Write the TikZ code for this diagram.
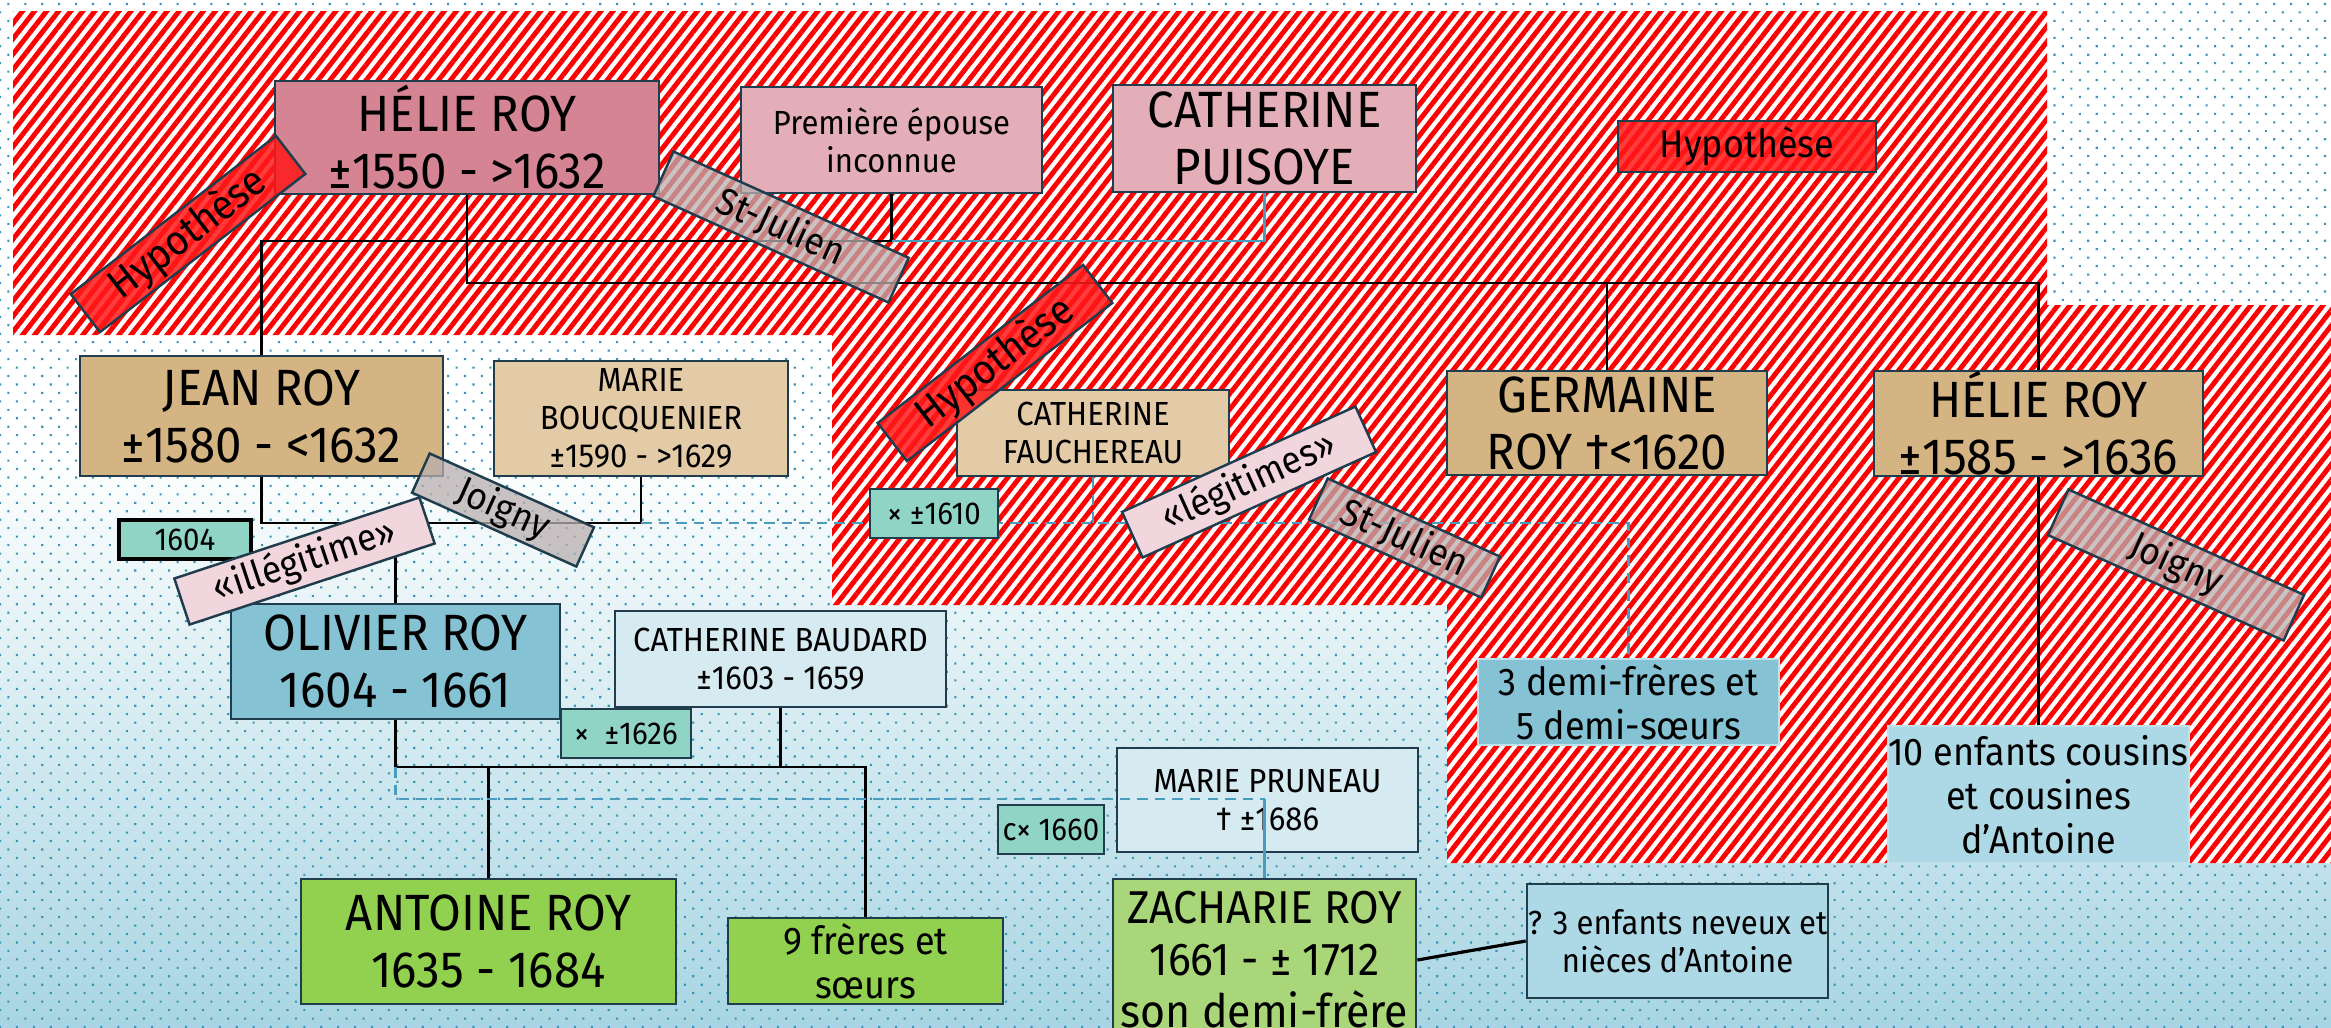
\documentclass[tikz,border=0pt]{standalone}
\usepackage{fontspec}
\setmainfont{Fira Sans}[FakeStretch=0.93]
\usepackage{tikz}
\usetikzlibrary{patterns.meta,positioning,calc}
\definecolor{boxLine}{RGB}{31,61,77}
\definecolor{roseDeep}{RGB}{212,132,146}
\definecolor{roseLight}{RGB}{227,174,184}
\definecolor{tanDark}{RGB}{213,180,131}
\definecolor{tanLight}{RGB}{228,203,168}
\definecolor{mint}{RGB}{143,212,196}
\definecolor{blueMid}{RGB}{133,194,212}
\definecolor{bluePale}{RGB}{214,234,241}
\definecolor{blueLight}{RGB}{173,216,230}
\definecolor{blueEdge}{RGB}{190,225,236}
\definecolor{greenMid}{RGB}{146,208,80}
\definecolor{greenSoft}{RGB}{170,214,122}
\definecolor{tagRed}{RGB}{255,25,25}
\definecolor{tagGrey}{RGB}{185,175,175}
\definecolor{tagPink}{RGB}{242,214,221}
\definecolor{kinBlue}{RGB}{74,156,190}
\definecolor{hatchRed}{RGB}{255,0,0}
\definecolor{dotBlue}{RGB}{58,150,182}
\definecolor{bgBlue}{RGB}{168,213,227}
\pgfdeclarelayer{bg}
\pgfdeclarelayer{lines}
\pgfsetlayers{bg,lines,main}

\begin{document}
\begin{tikzpicture}[x=0.01cm, y=-0.01cm,
        person/.style={rectangle, draw=boxLine, line width=0.7pt, align=center, inner sep=0pt, text=black},
        bigname/.style={person, font=\fontsize{14.5}{16.2}\selectfont},
        zachname/.style={person, font=\fontsize{13.1}{14.8}\selectfont},
        midname/.style={person, font=\fontsize{11}{12.5}\selectfont},
        smallname/.style={person, font=\fontsize{9.5}{10.8}\selectfont},
        datebox/.style={person, fill=mint, font=\fontsize{9}{10}\selectfont},
        hyponote/.style={person, fill=tagRed, fill opacity=0.85, text opacity=1, font=\fontsize{11}{12}\selectfont},
        tag/.style={rectangle, draw=boxLine, line width=0.7pt, inner sep=0pt, text opacity=1, font=\fontsize{10.8}{12}\selectfont},
        redtag/.style={tag, fill=tagRed, fill opacity=0.85, font=\fontsize{11.8}{12}\selectfont},
        greytag/.style={tag, fill=tagGrey, fill opacity=0.75},
        pinktag/.style={tag, fill=tagPink},
        tie/.style={draw=black, line width=0.65pt},
        kin/.style={draw=kinBlue, line width=0.7pt},
        kindash/.style={kin, dash pattern=on 3pt off 2pt}
    ]
        \useasboundingbox (0,0) rectangle (2331,1027);

        % First generation
        \node[bigname, fill=roseDeep, minimum width=3.84cm, minimum height=1.13cm] (helieA) at (467,137.5) {HÉLIE ROY\\±1550 - >1632};
        \node[smallname, fill=roseLight, minimum width=3.01cm, minimum height=1.06cm] (premiere) at (891.5,140) {Première épouse\\inconnue};
        \node[bigname, fill=roseLight, minimum width=3.03cm, minimum height=1.07cm] (puisoye) at (1264.5,138.5) {CATHERINE\\PUISOYE};
        \node[hyponote, minimum width=2.58cm, minimum height=0.51cm] (hypoNote) at (1747,146.5) {Hypothèse};

        % Second generation
        \node[bigname, fill=tanDark, minimum width=3.63cm, minimum height=1.2cm] (jean) at (261.5,416) {JEAN ROY\\±1580 - <1632};
        \node[smallname, fill=tanLight, minimum width=2.94cm, minimum height=1.15cm] (boucq) at (641,418.5) {MARIE\\BOUCQUENIER\\±1590 - >1629};
        \node[smallname, fill=tanLight, minimum width=2.72cm, minimum height=0.86cm] (fauch) at (1093,433) {CATHERINE\\FAUCHEREAU};
        \node[bigname, fill=tanDark, minimum width=3.2cm, minimum height=1.04cm] (germaine) at (1607,423) {GERMAINE\\ROY †<1620};
        \node[bigname, fill=tanDark, minimum width=3.29cm, minimum height=1.05cm] (helieB) at (2038.5,423.5) {HÉLIE ROY\\±1585 - >1636};

        % Third generation
        \node[datebox, draw=black, line width=1.2pt, minimum width=1.32cm, minimum height=0.39cm] (d1604) at (185,539.5) {1604};
        \node[datebox, minimum width=1.28cm, minimum height=0.49cm] (d1610) at (934,513.5) {× ±1610};
        \node[bigname, fill=blueMid, minimum width=3.29cm, minimum height=1.15cm] (olivier) at (395.5,661.5) {OLIVIER ROY\\1604 - 1661};
        \node[smallname, fill=bluePale, minimum width=3.31cm, minimum height=0.96cm] (baudard) at (780.5,659) {CATHERINE BAUDARD\\±1603 - 1659};
        \node[datebox, minimum width=1.3cm, minimum height=0.49cm] (d1626) at (626,733.5) {×\ \ ±1626};
        \node[midname, fill=blueMid, draw=blueEdge, minimum width=3.01cm, minimum height=0.86cm] (demi) at (1628.5,702) {3 demi-frères et\\5 demi-sœurs};
        \node[midname, fill=blueLight, draw=blueEdge, minimum width=3.01cm, minimum height=1.37cm] (cousins) at (2038.5,794.5) {10 enfants cousins\\et cousines\\d’Antoine};

        % Fourth generation
        \node[bigname, fill=greenMid, minimum width=3.75cm, minimum height=1.25cm] (antoine) at (488.5,941.5) {ANTOINE ROY\\1635 - 1684};
        \node[midname, fill=greenMid, minimum width=2.75cm, minimum height=0.86cm] (freres) at (865.5,961) {9 frères et\\sœurs};
        \node[smallname, fill=bluePale, minimum width=3.01cm, minimum height=1.04cm] (pruneau) at (1267.5,800) {MARIE PRUNEAU\\† ±1686};
        \node[datebox, minimum width=1.06cm, minimum height=0.49cm] (d1660) at (1051,829.5) {c× 1660};
        \node[zachname, fill=greenSoft, minimum width=3.03cm, minimum height=1.62cm] (zacharie) at (1264.5,960) {ZACHARIE ROY\\1661 - ± 1712\\son demi-frère};
        \node[smallname, fill=blueLight, minimum width=3.01cm, minimum height=1.14cm] (neveux) at (1677.5,941) {? 3 enfants neveux et\\nièces d’Antoine};

        % Background
        \begin{pgfonlayer}{bg}
        \fill[white] (0,0) rectangle (2331,1027);
        \shade[top color=white, bottom color=bgBlue] (0,450) rectangle (2331,1027);
        \fill[pattern={Dots[distance=3.4pt, radius=0.42pt, angle=45]}, pattern color=dotBlue] (0,0) rectangle (2331,1027);
        % Hatched area
        \fill[white, postaction={pattern={Lines[angle=52, distance=2.7pt, line width=1.4pt]}, pattern color=hatchRed}]
            (13,11) -- (2047,11) -- (2047,305) -- (2331,305) -- (2331,863) -- (1447,863)
            -- (1447,605) -- (832,605) -- (832,335) -- (13,335) -- cycle;
        \end{pgfonlayer}

        % Tiers
        \coordinate (tier0) at (0,241);
        \coordinate (tier1) at (0,283);
        \coordinate (tier2) at (0,523);
        \coordinate (tier3) at (0,767);
        \coordinate (tier4) at (0,799);

        % Connectors (under the boxes)
        \begin{pgfonlayer}{lines}
        \draw[tie] (helieA.south) |- (helieB.north |- tier1) -- (helieB.north);
        \draw[tie] (germaine.north |- tier1) -- (germaine.north);
        \draw[tie] (jean.north) |- (premiere.south |- tier0) -- (premiere.south);
        \draw[kin] (premiere.south |- tier0) -| (puisoye.south);
        \draw[tie] (jean.south) |- (boucq.south |- tier2) -- (boucq.south);
        \draw[tie] (olivier.north |- tier2) -- (olivier.north);
        \draw[kindash] (boucq.south |- tier2) -| (demi.north);
        \draw[kindash] (fauch.south) -- (fauch.south |- tier2);
        \draw[tie] (helieB.south) -- (cousins.north);
        \draw[tie] (olivier.south) |- (freres.north |- tier3) -- (freres.north);
        \draw[tie] (baudard.south) -- (baudard.south |- tier3);
        \draw[tie] (antoine.north |- tier3) -- (antoine.north);
        \draw[tie, line width=0.9pt] (zacharie.east) -- (neveux.west);
        \end{pgfonlayer}

        % Connectors (over the boxes)
        \draw[kindash] (olivier.south |- tier3) |- (zacharie.north |- tier4);
        \draw[kin] (zacharie.north |- tier4) -- (zacharie.north);

        % Place tags
        \node[redtag, rotate=37.6, minimum width=2.59cm, minimum height=0.48cm] (hypoA) at (188,234) {Hypothèse};
        \node[greytag, rotate=-24.3, minimum width=2.58cm, minimum height=0.49cm] (stJulienA) at (781,227) {St-Julien};
        \node[redtag, rotate=37.6, minimum width=2.59cm, minimum height=0.48cm] (hypoB) at (995,363) {Hypothèse};
        \node[pinktag, rotate=18.3, minimum width=2.58cm, minimum height=0.485cm] (illegit) at (304.5,561) {«illégitime»};
        \node[greytag, rotate=-24.2, minimum width=1.8cm, minimum height=0.43cm] (joignyA) at (503,510) {Joigny};
        \node[pinktag, rotate=24.3, minimum width=2.56cm, minimum height=0.5cm] (legit) at (1249,482) {«légitimes»};
        \node[greytag, rotate=-24.4, minimum width=1.89cm, minimum height=0.45cm] (stJulienB) at (1404.5,538) {St-Julien};
        \node[greytag, rotate=-24.1, minimum width=2.58cm, minimum height=0.5cm] (joignyB) at (2176,565) {Joigny};

    \end{tikzpicture}
\end{document}
